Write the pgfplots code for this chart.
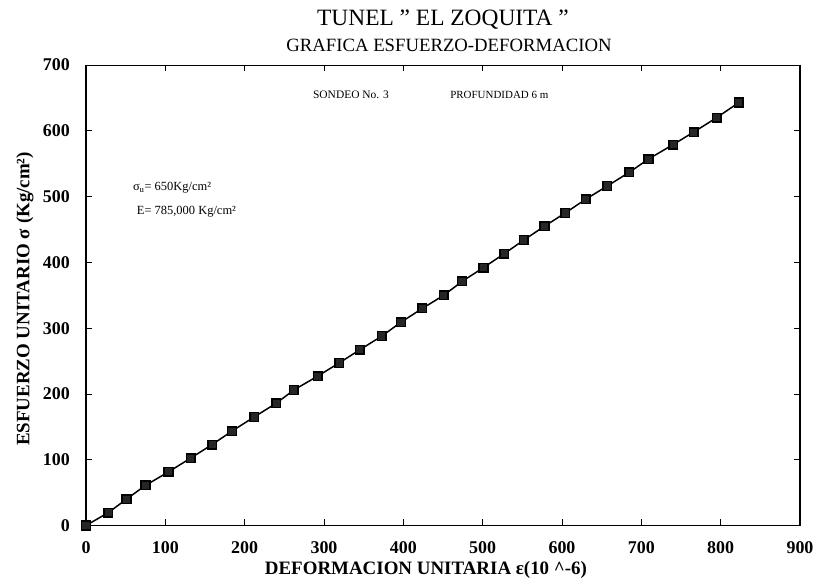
\documentclass[border=0pt]{standalone}
\usepackage{fontspec}
\setmainfont{Liberation Serif}
\usepackage{pgfplots}
\pgfplotsset{compat=1.18}
\begin{document}
\begin{tikzpicture}
\useasboundingbox (-86bp,-59.5bp) rectangle (734bp,525.5bp);
\begin{axis}[
  at={(0,0)}, anchor=south west,
  scale only axis, width=714bp, height=460.5bp,
  xmin=0, xmax=900, ymin=0, ymax=700,
  xtick={0,100,...,900}, ytick={0,100,...,700},
  tick align=inside, major tick length=6bp,
  tick style={black, line width=0.8bp},
  /pgf/number format/assume math mode=true,
  ticklabel style={font=\fontsize{18}{20}\selectfont\bfseries, inner sep=0pt},
  xticklabel style={anchor=center, yshift=-22.5bp},
  yticklabel style={anchor=east, xshift=-16bp},
  axis line style={line width=0.6bp},
  xlabel={DEFORMACION UNITARIA ε(10 \textasciicircum-6)},
  xlabel style={font=\fontsize{19}{21}\selectfont\bfseries, at={(axis description cs:0.4762,0)}, anchor=center, yshift=-44.5bp, inner sep=0pt},
  ylabel={ESFUERZO UNITARIO σ (Kg/cm²)},
  ylabel style={font=\fontsize{19}{21}\selectfont\bfseries, at={(axis description cs:-0.0854,0.492)}, anchor=center, inner sep=0pt},
  clip=false,
]
\addplot[black, line width=1.5bp, mark=square*, mark size=4.3bp, mark options={fill=black!85, solid}] coordinates {
(0,0) (28,19.5) (51,40) (75,61) (104,81.5) (132,102.5) (159,123) (184,143.5)
(212,165) (240,186) (262,206) (292,227) (319,247) (345,267) (373,288)
(397,309) (424,330) (451,350) (474,371) (501,392) (527,413) (552,434)
(578,455) (604,475) (630,496) (657,516) (685,537) (709,557) (740,579)
(766,598) (795,620) (823,643)
};
\draw[line width=2bp] (rel axis cs:0,0) -- (rel axis cs:0,1);
\draw[line width=2bp] (rel axis cs:1,0) -- (rel axis cs:1,1);
\node[anchor=west, font=\fontsize{11.5}{13}\selectfont, inner sep=0pt] at (axis cs:286,654) {SONDEO No. 3};
\node[anchor=west, font=\fontsize{11}{13}\selectfont, inner sep=0pt] at (axis cs:459,654) {PROFUNDIDAD 6 m};
\node[anchor=west, font=\fontsize{12.5}{14}\selectfont, inner sep=0pt] at (axis cs:59,513) {σ\textsubscript{u}= 650Kg/cm²};
\node[anchor=west, font=\fontsize{12.5}{14}\selectfont, inner sep=0pt] at (axis cs:64,477) {E= 785,000 Kg/cm²};
\end{axis}
\node[font=\fontsize{23.5}{26}\selectfont] at (357bp,505.5bp) {TUNEL " EL ZOQUITA "};
\node[font=\fontsize{18.8}{21}\selectfont] at (363bp,480.5bp) {GRAFICA ESFUERZO-DEFORMACION};
\end{tikzpicture}
\end{document}
